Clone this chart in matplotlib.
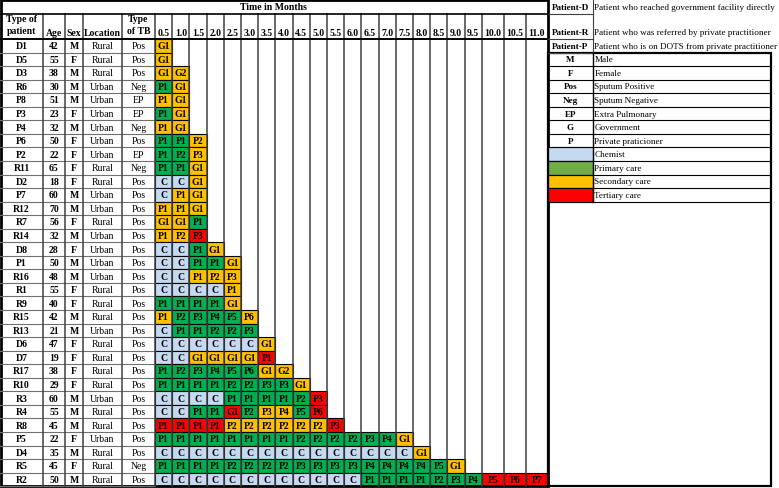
import matplotlib.pyplot as plt
from matplotlib.patches import Rectangle

plt.rcParams['font.family'] = ['Liberation Serif', 'DejaVu Serif']

patients = ["D1", "D5", "D3", "R6", "P8", "P3", "P4", "P6", "P2", "R11", "D2",
            "P7", "R12", "R7", "R14", "D8", "P1", "R16", "R1", "R9", "R15",
            "R13", "D6", "D7", "R17", "R10", "R3", "R4", "R8", "P5", "D4",
            "R5", "R2"]
ages = [42, 55, 38, 30, 51, 23, 32, 50, 22, 65, 18, 60, 70, 56, 32, 28, 50,
        48, 55, 40, 42, 21, 47, 19, 38, 29, 60, 55, 45, 22, 35, 45, 50]
sexes = ["M", "F", "M", "M", "M", "F", "M", "F", "F", "F", "F", "M", "M", "F",
         "M", "F", "M", "M", "F", "F", "M", "M", "F", "F", "F", "F", "M", "M",
         "M", "F", "M", "F", "M"]
locations = ["Rural", "Rural", "Rural", "Urban", "Urban", "Urban", "Urban",
             "Urban", "Urban", "Rural", "Rural", "Urban", "Urban", "Rural",
             "Urban", "Urban", "Urban", "Urban", "Rural", "Rural", "Rural",
             "Urban", "Rural", "Rural", "Rural", "Rural", "Urban", "Rural",
             "Rural", "Urban", "Rural", "Rural", "Rural"]
tb_types = ["Pos", "Pos", "Pos", "Neg", "EP", "EP", "Neg", "Pos", "EP", "Neg",
            "Pos", "Pos", "Pos", "Pos", "Pos", "Pos", "Pos", "Pos", "Pos",
            "Pos", "Pos", "Pos", "Pos", "Pos", "Pos", "Pos", "Pos", "Pos",
            "Pos", "Pos", "Pos", "Neg", "Pos"]

# each visit: label + care level (c chemist, g primary, y secondary, r tertiary)
timelines = [
    "G1y",
    "G1y",
    "G1y G2y",
    "P1g G1y",
    "P1y G1y",
    "P1g G1y",
    "P1y G1y",
    "P1g P1g P2y",
    "P1g P2g P3y",
    "P1g P1g G1y",
    "Cc Cc G1y",
    "Cc P1y G1y",
    "P1y P1y G1y",
    "G1y G1y P1g",
    "P1y P2y P3r",
    "Cc Cc P1g G1y",
    "Cc Cc P1g P1g G1y",
    "Cc Cc P1y P2y P3y",
    "Cc Cc Cc Cc P1y",
    "P1g P1g P1g P1g G1y",
    "P1y P2g P3g P4g P5g P6y",
    "Cc P1g P1g P2g P2g P3g",
    "Cc Cc Cc Cc Cc Cc G1y",
    "Cc Cc G1y G1y G1y G1y P1r",
    "P1g P2g P3g P4g P5g P6g G1y G2y",
    "P1g P1g P1g P1g P2g P2g P3g P3g G1y",
    "Cc Cc Cc Cc P1g P1g P1g P1g P2g P3r",
    "Cc Cc P1g P1g G1r P2g P3y P4y P5g P6r",
    "P1r P1r P1r P1r P2y P2y P2y P2y P2y P2y P3r",
    "P1g P1g P1g P1g P1g P1g P1g P1g P2g P2g P2g P2g P3g P4g G1y",
    "Cc Cc Cc Cc Cc Cc Cc Cc Cc Cc Cc Cc Cc Cc Cc G1y",
    "P1g P1g P1g P1g P2g P2g P2g P2g P3g P3g P3g P3g P4g P4g P4g P4g P5g G1y",
    "Cc Cc Cc Cc Cc Cc Cc Cc Cc Cc Cc Cc P1g P1g P1g P1g P2g P3g P4g P5r P6r P7r",
]

months = ["0.5", "1.0", "1.5", "2.0", "2.5", "3.0", "3.5", "4.0", "4.5", "5.0",
          "5.5", "6.0", "6.5", "7.0", "7.5", "8.0", "8.5", "9.0", "9.5",
          "10.0", "10.5", "11.0"]

patient_keys = ["Patient-D", "Patient-R", "Patient-P"]
patient_desc = ["Patient who reached government facility directly",
                "Patient who was referred by private practitioner",
                "Patient who is on DOTS from private practitioner"]
legend_keys = ["M", "F", "Pos", "Neg", "EP", "G", "P"]
legend_desc = ["Male", "Female", "Sputum Positive", "Sputum Negative",
               "Extra Pulmonary", "Government", "Private praticioner"]
care_levels = ["Chemist", "Primary care", "Secondary care", "Tertiary care"]

colors = {"c": "#c5d9f1", "g": "#00b050", "y": "#ffc000", "r": "#ff0000"}
legend_swatch = ["#c5d9f1", "#70ad47", "#ffc000", "#ff0000"]

# layout (pixels)
W, H = 779, 489
top_h, head_h = 15, 40
row_h = 13.55
left_edges = [0, 43, 65, 83, 122, 155]
col_w = [17.2] * 19 + [22.0] * 3
time_edges = [155]
for w in col_w:
    time_edges.append(time_edges[-1] + w)
table_r = time_edges[-1]
table_b = head_h + row_h * len(patients)
key_r = 593
leg_r = 771

fig = plt.figure(figsize=(W / 100, H / 100), dpi=100)
ax = fig.add_axes([0, 0, 1, 1])
ax.set_xlim(0, W)
ax.set_ylim(H, 0)
ax.axis('off')

fs = 7
fs_desc = 6.6

# left columns
for i in range(len(patients)):
    y0 = head_h + i * row_h
    yc = y0 + row_h / 2
    vals = [patients[i], str(ages[i]), sexes[i], locations[i], tb_types[i]]
    for j, v in enumerate(vals):
        xc = (left_edges[j] + left_edges[j + 1]) / 2
        ax.text(xc, yc, v, ha='center', va='center', fontsize=fs,
                fontweight='bold' if j < 3 else 'normal')
    ax.plot([0, left_edges[-1]], [y0 + row_h, y0 + row_h], color='#707070', lw=0.8)

# vertical lines
for x in left_edges[1:]:
    ax.plot([x, x], [top_h, table_b], color='#404040', lw=1.1)
for x in time_edges[1:-1]:
    ax.plot([x, x], [top_h, table_b], color='#404040', lw=1.1)

# timeline cells
for i, tl in enumerate(timelines):
    y0 = head_h + i * row_h
    for k, item in enumerate(tl.split()):
        lab, lev = item[:-1], item[-1]
        x0 = time_edges[k]
        ax.add_patch(Rectangle((x0, y0), time_edges[k + 1] - x0, row_h,
                               facecolor=colors[lev], edgecolor='black', lw=0.8))
        ax.text(x0 + (time_edges[k + 1] - x0) / 2, y0 + row_h / 2, lab,
                ha='center', va='center', fontsize=fs, fontweight='bold')

# headers
ax.text(table_r / 2, top_h / 2, "Time in Months", ha='center', va='center',
        fontsize=fs, fontweight='bold')
ax.plot([0, table_r], [top_h, top_h], color='black', lw=1.2)
ax.plot([0, table_r], [head_h, head_h], color='black', lw=1.4)
ax.text(21.5, 20, "Type of", ha='center', va='center', fontsize=fs, fontweight='bold')
ax.text(21.5, 31, "patient", ha='center', va='center', fontsize=fs, fontweight='bold')
for j, lab in [(1, "Age"), (2, "Sex"), (3, "Location")]:
    ax.text((left_edges[j] + left_edges[j + 1]) / 2, 33, lab, ha='center',
            va='center', fontsize=fs, fontweight='bold')
ax.text(138.5, 20, "Type", ha='center', va='center', fontsize=fs, fontweight='bold')
ax.text(138.5, 32, "of TB", ha='center', va='center', fontsize=fs, fontweight='bold')
for k, m in enumerate(months):
    ax.text((time_edges[k] + time_edges[k + 1]) / 2, 33, m, ha='center',
            va='center', fontsize=fs, fontweight='bold')

# outer border of table
ax.add_patch(Rectangle((0.8, 0.8), table_r - 0.8, table_b - 0.8, fill=False,
                       edgecolor='black', lw=2.0))

# legend: patient types
pk_y = [(0, top_h, 7.5), (top_h, head_h, 33), (head_h, head_h + row_h, head_h + row_h / 2)]
for (ya, yb, yc), k, d in zip(pk_y, patient_keys, patient_desc):
    ax.text((table_r + key_r) / 2, yc, k, ha='center', va='center',
            fontsize=fs_desc, fontweight='bold')
    ax.text(key_r + 1.5, yc, d, ha='left', va='center', fontsize=fs_desc)
    ax.plot([key_r, key_r], [ya, yb], color='#404040', lw=0.8)
    ax.plot([table_r, key_r], [yb, yb], color='#404040', lw=0.8)

# legend: codes and care levels
leg_top = head_h + row_h
rows = list(zip(legend_keys, legend_desc)) + [(None, c) for c in care_levels]
for n, (k, d) in enumerate(rows):
    y0 = leg_top + n * row_h
    yc = y0 + row_h / 2
    if k is not None:
        ax.text((table_r + key_r) / 2, yc, k, ha='center', va='center',
                fontsize=fs_desc, fontweight='bold')
    else:
        ci = n - len(legend_keys)
        ax.add_patch(Rectangle((table_r, y0), key_r - table_r, row_h,
                               facecolor=legend_swatch[ci], edgecolor='black', lw=0.8))
    ax.text(key_r + 1.5, yc, d, ha='left', va='center', fontsize=fs_desc)
    ax.plot([table_r, leg_r], [y0 + row_h, y0 + row_h], color='black', lw=0.8)
leg_bot = leg_top + len(rows) * row_h
ax.plot([key_r, key_r], [leg_top, leg_bot], color='black', lw=1.0)
ax.add_patch(Rectangle((table_r, leg_top), leg_r - table_r, table_b - leg_top,
                       fill=False, edgecolor='black', lw=1.6))

fig.savefig("out.png", dpi=100)
